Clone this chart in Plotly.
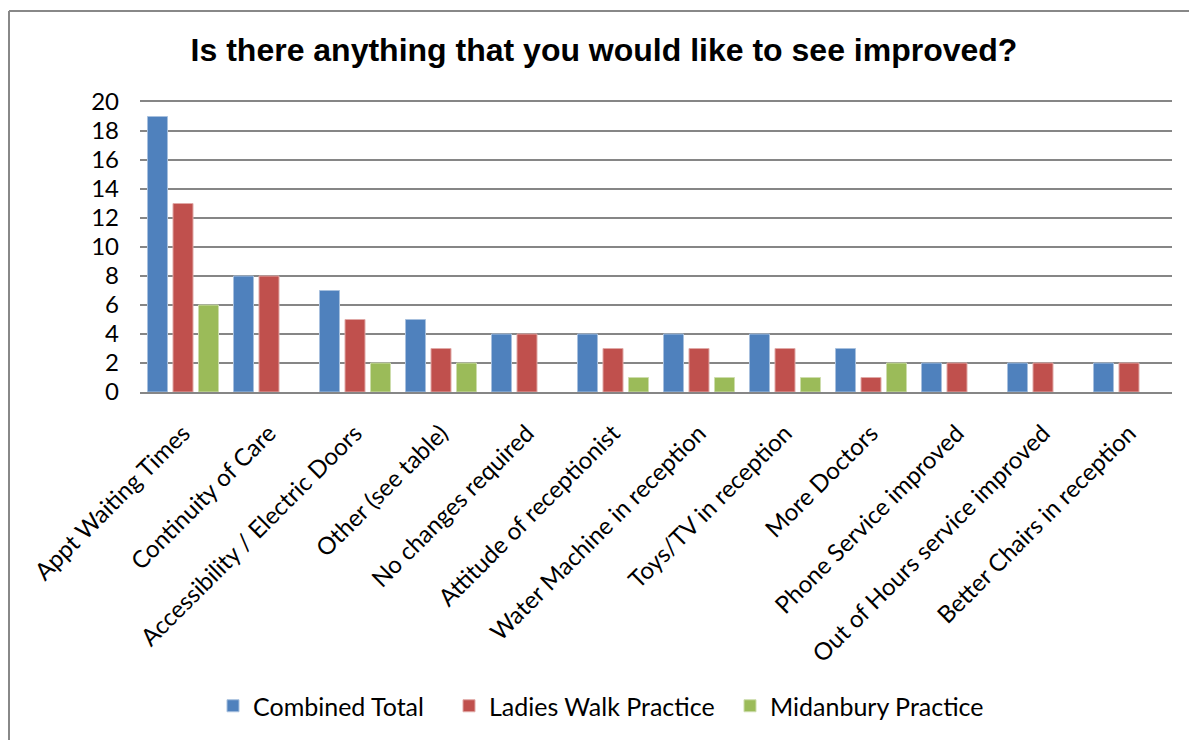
import plotly.graph_objects as go

categories = ["Appt Waiting Times", "Continuity of Care", "Accessibility / Electric Doors",
              "Other (see table)", "No changes required", "Attitude of receptionist",
              "Water Machine in reception", "Toys/TV in reception", "More Doctors",
              "Phone Service improved", "Out of Hours service improved", "Better Chairs in reception"]
combined_total = [19, 8, 7, 5, 4, 4, 4, 4, 3, 2, 2, 2]
ladies_walk = [13, 8, 5, 3, 4, 3, 3, 3, 1, 2, 2, 2]
midanbury = [6, 0, 2, 2, 0, 1, 1, 1, 2, 0, 0, 0]
y_ticks = [0, 2, 4, 6, 8, 10, 12, 14, 16, 18, 20]

series = [
    ("Combined Total", combined_total, "#4F81BD", "#A7C0DE", "legend", 255),
    ("Ladies Walk Practice", ladies_walk, "#C0504D", "#E0A8A6", "legend2", 491),
    ("Midanbury Practice", midanbury, "#9BBB59", "#CDDDAC", "legend3", 772),
]

W, H = 1189, 740
L, R, T, B = 140, 17, 102, 348
PW, PH = W - L - R, H - T - B
font_name = "Lato"
fs = 24
TEXT_OFFSET = 42

fig = go.Figure()
legends = {}
for name, vals, col, edge, leg, text_x in series:
    fig.add_trace(go.Bar(
        x=categories, y=vals, name=name, legend=leg,
        marker=dict(color=col, line=dict(color=edge, width=[1 if v > 0 else 0 for v in vals])),
    ))
    legends[leg] = dict(orientation="h", x=(text_x - TEXT_OFFSET - L) / PW, xanchor="left",
                        y=-(706 - (H - B)) / PH, yanchor="middle",
                        font=dict(family=font_name, size=25, color="black"),
                        itemwidth=30, bgcolor="rgba(0,0,0,0)")

fig.update_layout(
    width=W, height=H,
    margin=dict(l=L, r=R, t=T, b=B),
    paper_bgcolor="white", plot_bgcolor="white",
    barmode="group", bargap=0.11, bargroupgap=0.216,
    title=dict(text="<b>Is there anything that you would like to see improved?</b>",
               font=dict(family="Arial", size=32, color="black"),
               x=604 / W, xanchor="center", y=1 - 50 / H, yanchor="middle"),
    font=dict(family=font_name, size=fs, color="black"),
    showlegend=True,
    xaxis=dict(tickangle=-45, showgrid=False, showline=True, mirror=True,
               linecolor="#868686", linewidth=1.5,
               ticks="", ticklabelstandoff=16,
               tickfont=dict(family=font_name, size=fs, color="black")),
    yaxis=dict(range=[0, 20], tickvals=y_ticks, showgrid=True, gridcolor="#868686", gridwidth=1.5,
               zeroline=False, showline=False, ticks="", ticklabelstandoff=20,
               tickfont=dict(family=font_name, size=fs, color="black")),
    **legends,
)

# outer chart border (top and left edges visible in the reference)
fig.add_shape(type="line", xref="paper", yref="paper",
              x0=(9 - L) / PW, x1=(W + 5 - L) / PW,
              y0=1 + (T - 11) / PH, y1=1 + (T - 11) / PH,
              line=dict(color="#888888", width=2))
fig.add_shape(type="line", xref="paper", yref="paper",
              x0=(9 - L) / PW, x1=(9 - L) / PW,
              y0=1 + (T - 11) / PH, y1=-(H + 5 - (H - B)) / PH,
              line=dict(color="#888888", width=2))

fig.write_html("out.html", config={"displayModeBar": False},
               post_script="document.body.style.margin='0px';")
